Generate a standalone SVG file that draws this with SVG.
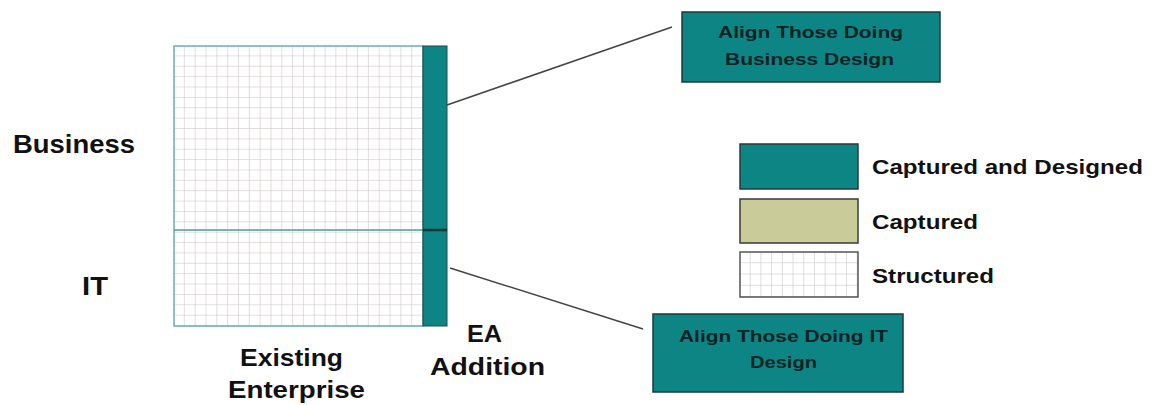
<svg xmlns="http://www.w3.org/2000/svg" width="1153" height="405" viewBox="0 0 1153 405">
<style>
.lbl{font-family:"Liberation Sans",Arial,sans-serif;font-weight:bold;fill:#111;}
.box{fill:#0e8585;stroke:#1a3a3a;stroke-width:1.5;}
.boxtxt{font-family:"Liberation Sans",Arial,sans-serif;font-weight:bold;font-size:17px;fill:#0d2222;}
.conn{stroke:#444;stroke-width:1.5;fill:none;}
</style>
<defs>
<pattern id="grid" patternUnits="userSpaceOnUse" x="174" y="46" width="10.826" height="10.37">
<rect width="10.826" height="10.37" fill="#fff"/>
<path d="M10.826 0V10.37M0 10.37H10.826" stroke="#c8bebe" stroke-width="1" fill="none"/>
</pattern>
<pattern id="grid2" patternUnits="userSpaceOnUse" x="740" y="252" width="10.7" height="11.25">
<rect width="10.7" height="11.25" fill="#fff"/>
<path d="M10.7 0V11.25M0 11.25H10.7" stroke="#c0baba" stroke-width="1" fill="none"/>
</pattern>
</defs>
<rect width="1153" height="405" fill="#fff"/>

<g id="existing-enterprise">
<rect x="174" y="46" width="249" height="280" fill="url(#grid)" stroke="#6aafaf" stroke-width="1.5"/>
<line x1="174" y1="230" x2="423" y2="230" stroke="#4a9c9c" stroke-width="1.5"/>
</g>
<g id="ea-addition">
<rect x="423" y="46" width="24" height="280" fill="#0e8585" stroke="#1a4a4a" stroke-width="1"/>
<line x1="423" y1="230" x2="447" y2="230" stroke="#0a3535" stroke-width="2.5"/>
</g>

<g id="labels">
<text class="lbl" x="13" y="153" font-size="25" textLength="122" lengthAdjust="spacingAndGlyphs">Business</text>
<text class="lbl" x="82" y="295" font-size="25" textLength="26" lengthAdjust="spacingAndGlyphs">IT</text>
<text class="lbl" x="240" y="366" font-size="24" textLength="103" lengthAdjust="spacingAndGlyphs">Existing</text>
<text class="lbl" x="228" y="398" font-size="24" textLength="137" lengthAdjust="spacingAndGlyphs">Enterprise</text>
<text class="lbl" x="467" y="342" font-size="24" textLength="35" lengthAdjust="spacingAndGlyphs">EA</text>
<text class="lbl" x="430" y="375" font-size="24" textLength="115" lengthAdjust="spacingAndGlyphs">Addition</text>
</g>

<g id="connectors">
<line class="conn" x1="447" y1="105" x2="672" y2="27"/>
<line class="conn" x1="450" y1="268" x2="643" y2="329"/>
</g>

<g id="callout-business">
<rect class="box" x="682" y="12" width="258" height="70"/>
<text class="boxtxt" x="718" y="38" textLength="185" lengthAdjust="spacingAndGlyphs">Align Those Doing</text>
<text class="boxtxt" x="725" y="65" textLength="169" lengthAdjust="spacingAndGlyphs">Business Design</text>
</g>
<g id="callout-it">
<rect class="box" x="653" y="314" width="250" height="78"/>
<text class="boxtxt" x="679" y="342" textLength="209" lengthAdjust="spacingAndGlyphs">Align Those Doing IT</text>
<text class="boxtxt" x="750" y="368" textLength="67" lengthAdjust="spacingAndGlyphs">Design</text>
</g>

<g id="legend-captured-designed">
<rect x="740" y="144" width="118" height="45" fill="#0e8585" stroke="#2a3a3a" stroke-width="1.5"/>
<text class="lbl" x="872" y="174" font-size="21" textLength="271" lengthAdjust="spacingAndGlyphs">Captured and Designed</text>
</g>
<g id="legend-captured">
<rect x="740" y="199" width="118" height="44" fill="#c9cc99" stroke="#3a3a3a" stroke-width="1.5"/>
<text class="lbl" x="872" y="229" font-size="21" textLength="106" lengthAdjust="spacingAndGlyphs">Captured</text>
</g>
<g id="legend-structured">
<rect x="740" y="252" width="118" height="45" fill="url(#grid2)" stroke="#555" stroke-width="1.5"/>
<text class="lbl" x="872" y="283" font-size="21" textLength="122" lengthAdjust="spacingAndGlyphs">Structured</text>
</g>
</svg>
